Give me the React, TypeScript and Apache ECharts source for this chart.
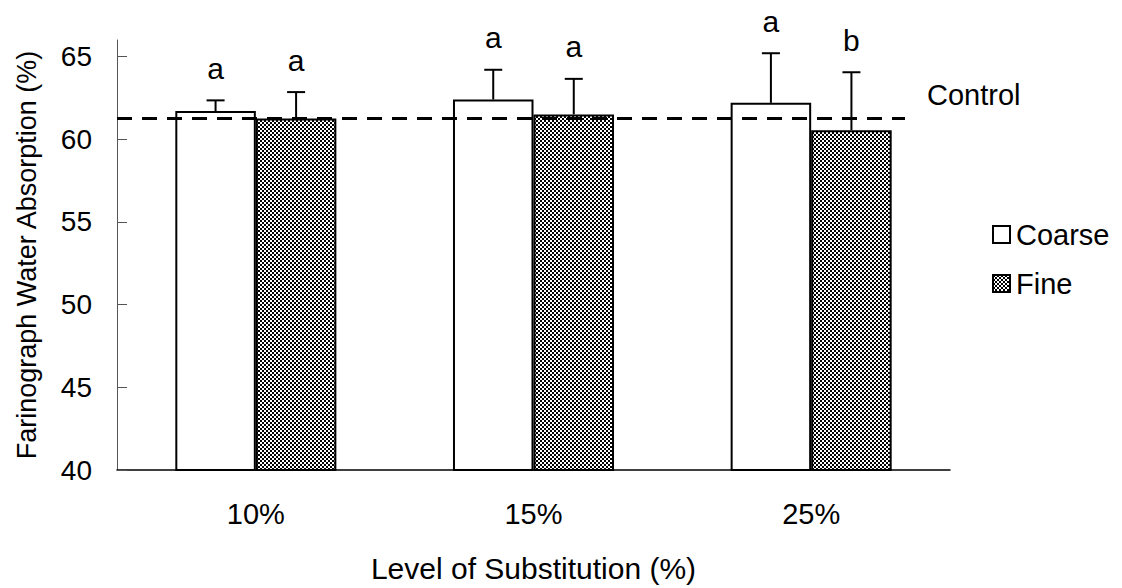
import React, { useEffect, useRef } from "react";
import * as echarts from "echarts";

const categories = ["10%", "15%", "25%"];
const coarseValues = [61.7, 62.4, 62.2];
const coarseErrors = [0.65, 1.8, 3.0];
const coarseLetters = ["a", "a", "a"];
const fineValues = [61.25, 61.5, 60.55];
const fineErrors = [1.6, 2.15, 3.5];
const fineLetters = ["a", "a", "b"];
const controlValue = 61.25;
const yTicks = [40, 45, 50, 55, 60, 65];

const FONT = "'Liberation Sans', Arial, sans-serif";
const BAR_WIDTH_RATIO = 0.29;

function makePattern(): HTMLCanvasElement {
  const c = document.createElement("canvas");
  c.width = 4;
  c.height = 4;
  const ctx = c.getContext("2d")!;
  ctx.fillStyle = "#ffffff";
  ctx.fillRect(0, 0, 4, 4);
  ctx.fillStyle = "#000000";
  ctx.fillRect(0, 0, 2, 2);
  ctx.fillRect(2, 2, 2, 2);
  return c;
}

function errorSeries(name: string, values: number[], errors: number[], letters: string[], side: number) {
  return {
    type: "custom",
    name,
    z: 5,
    silent: true,
    data: values.map((v, i) => [i, v, errors[i]]),
    renderItem: (params: any, api: any) => {
      const x = api.value(0);
      const v = api.value(1);
      const e = api.value(2);
      const base = api.coord([x, v]);
      const top = api.coord([x, v + e]);
      const bw = api.size([1, 0])[0];
      const cx = base[0] + (side * bw * BAR_WIDTH_RATIO) / 2;
      return {
        type: "group",
        children: [
          { type: "line", shape: { x1: cx, y1: base[1], x2: cx, y2: top[1] }, style: { stroke: "#000", lineWidth: 2 } },
          { type: "line", shape: { x1: cx - 9, y1: top[1], x2: cx + 9, y2: top[1] }, style: { stroke: "#000", lineWidth: 2 } },
          {
            type: "text",
            style: {
              text: letters[params.dataIndex],
              x: cx,
              y: top[1] - 17,
              align: "center",
              verticalAlign: "bottom",
              fontSize: 30,
              fontFamily: FONT,
              fill: "#000",
            },
          },
        ],
      };
    },
  };
}

export default function App() {
  const ref = useRef<HTMLDivElement>(null);
  useEffect(() => {
    if (!ref.current) return;
    const chart = echarts.init(ref.current, null, { renderer: "svg" });
    const pattern = makePattern();
    const fineFill: any = { image: pattern, repeat: "repeat", imageWidth: 4, imageHeight: 4 };
    chart.setOption({
      animation: false,
      backgroundColor: "#ffffff",
      textStyle: { fontFamily: FONT },
      grid: { left: 117, right: 172, top: 40, bottom: 115 },
      legend: {
        data: ["Coarse", "Fine"],
        orient: "vertical",
        left: 987,
        top: 215,
        itemWidth: 17,
        itemHeight: 17,
        itemGap: 20,
        icon: "rect",
        textStyle: { fontSize: 29, color: "#000", fontFamily: FONT, padding: [0, 0, 0, 1] },
        itemStyle: { borderWidth: 2 },
      },
      xAxis: {
        type: "category",
        data: categories,
        name: "Level of Substitution (%)",
        nameLocation: "middle",
        nameGap: 83,
        nameTextStyle: { fontSize: 30, color: "#000", fontFamily: FONT },
        axisLine: { lineStyle: { color: "#000", width: 1.5 } },
        axisTick: { inside: true, length: 10, lineStyle: { color: "#555" } },
        axisLabel: { fontSize: 29, color: "#000", margin: 29, fontFamily: FONT },
        splitLine: { show: false },
      },
      yAxis: {
        type: "value",
        min: 40,
        max: 66,
        interval: 5,
        name: "Farinograph Water Absorption (%)",
        nameLocation: "middle",
        nameGap: 77,
        nameTextStyle: { fontSize: 27, color: "#000", fontFamily: FONT },
        axisLine: { show: true, lineStyle: { color: "#555", width: 1 } },
        axisTick: { show: true, inside: true, length: 10, customValues: yTicks, lineStyle: { color: "#555" } },
        axisLabel: { fontSize: 28, color: "#000", margin: 25, customValues: yTicks, fontFamily: FONT },
        splitLine: { show: false },
      },
      series: [
        {
          type: "bar",
          name: "Coarse",
          data: coarseValues,
          barWidth: "29%",
          barGap: "0%",
          itemStyle: { color: "#ffffff", borderColor: "#000", borderWidth: 2 },
        },
        {
          type: "bar",
          name: "Fine",
          data: fineValues,
          barWidth: "29%",
          barGap: "0%",
          itemStyle: { color: fineFill, borderColor: "#000", borderWidth: 2 },
        },
        errorSeries("CoarseErr", coarseValues, coarseErrors, coarseLetters, -1),
        errorSeries("FineErr", fineValues, fineErrors, fineLetters, 1),
        {
          type: "custom",
          name: "Control",
          z: 6,
          silent: true,
          data: [[0, controlValue]],
          renderItem: (params: any, api: any) => {
            const cs = params.coordSys;
            const p = api.coord([0, api.value(1)]);
            const x1 = cs.x;
            const x2 = cs.x + cs.width - 45;
            return {
              type: "group",
              children: [
                {
                  type: "line",
                  shape: { x1, y1: p[1], x2, y2: p[1] },
                  style: { stroke: "#000", lineWidth: 3, lineDash: [15, 10] },
                },
                {
                  type: "text",
                  style: {
                    text: "Control",
                    x: x2 + 22,
                    y: p[1] - 24,
                    align: "left",
                    verticalAlign: "middle",
                    fontSize: 29,
                    fontFamily: FONT,
                    fill: "#000",
                  },
                },
              ],
            };
          },
        },
      ],
    });
    return () => chart.dispose();
  }, []);
  return <div ref={ref} style={{ position: "fixed", left: 0, top: 0, width: 1122, height: 588 }} />;
}
